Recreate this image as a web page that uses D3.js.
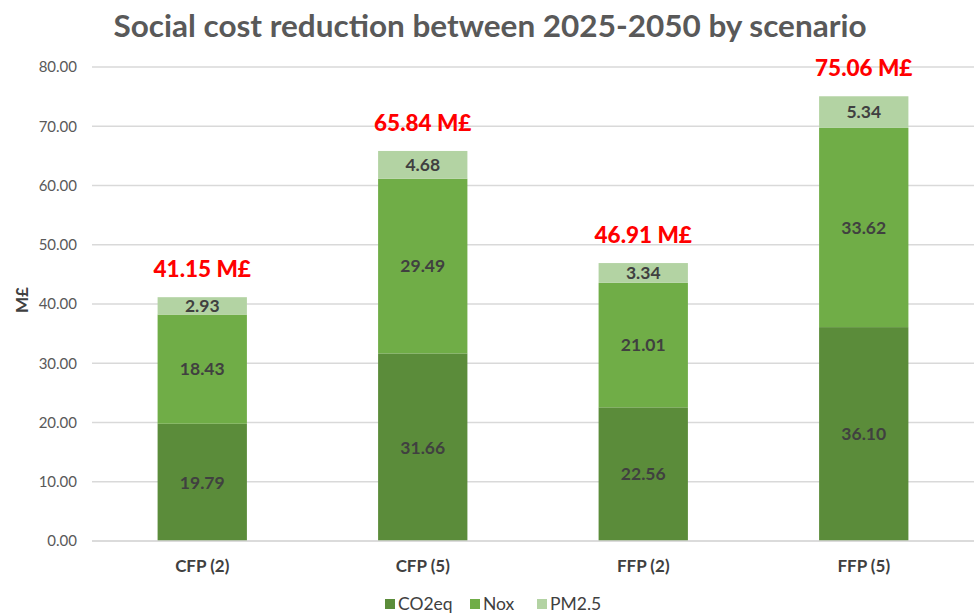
<!DOCTYPE html>
<html><head><meta charset="utf-8">
<script src="https://cdn.jsdelivr.net/npm/d3@7"></script>
<style>body{margin:0;background:#fff}svg{display:block}</style>
</head><body><svg id="c" width="974" height="613"></svg>
<script>
const categories = ["CFP (2)", "CFP (5)", "FFP (2)", "FFP (5)"];
const seriesNames = ["CO2eq", "Nox", "PM2.5"];
const co2eq = [19.79, 31.66, 22.56, 36.10];
const nox = [18.43, 29.49, 21.01, 33.62];
const pm25 = [2.93, 4.68, 3.34, 5.34];
const totals = [41.15, 65.84, 46.91, 75.06];
const yTicks = [0, 10, 20, 30, 40, 50, 60, 70, 80];
const colors = ["#5b8c3a", "#70ad47", "#b3d3a3"];

const svg = d3.select("#c");
const font = "Lato, 'Open Sans', sans-serif";
const x = d3.scaleBand().domain(categories).range([92, 974]).paddingInner(0.595).paddingOuter(0.2975);
const y = d3.scaleLinear().domain([0, 80]).range([541, 67]);

const rows = categories.map((c, i) => ({cat: c, "CO2eq": co2eq[i], "Nox": nox[i], "PM2.5": pm25[i]}));
const stacked = d3.stack().keys(seriesNames)(rows);

// gridlines
svg.append("g").selectAll("line").data(yTicks).join("line")
  .attr("x1", 92).attr("x2", 974)
  .attr("y1", d => y(d)).attr("y2", d => y(d))
  .attr("stroke", "#d9d9d9").attr("stroke-width", 1.3);

// y axis labels
const ya = svg.append("g").attr("transform", "translate(77,0)")
  .call(d3.axisLeft(y).tickValues(yTicks).tickFormat(d3.format(".2f")).tickSize(0).tickPadding(0));
ya.select(".domain").remove();
ya.selectAll("text").attr("font-family", font).attr("font-size", 15).attr("fill", "#595959");

// bars
stacked.forEach((s, si) => {
  svg.append("g").selectAll("rect").data(s).join("rect")
    .attr("x", d => x(d.data.cat)).attr("width", x.bandwidth())
    .attr("y", d => y(d[1])).attr("height", d => y(d[0]) - y(d[1]))
    .attr("fill", colors[si]);
  svg.append("g").selectAll("text").data(s).join("text")
    .attr("x", d => x(d.data.cat) + x.bandwidth() / 2)
    .attr("y", d => (y(d[0]) + y(d[1])) / 2)
    .attr("dy", "0.36em").attr("text-anchor", "middle")
    .attr("font-family", font).attr("font-weight", "bold").attr("font-size", 17.5)
    .attr("fill", "#404040")
    .text(d => d3.format(".2f")(d[1] - d[0]));
});

// baseline
svg.append("line").attr("x1", 92).attr("x2", 974).attr("y1", y(0)).attr("y2", y(0))
  .attr("stroke", "#d9d9d9").attr("stroke-width", 1.3);

// totals
svg.append("g").selectAll("text").data(categories).join("text")
  .attr("x", d => x(d) + x.bandwidth() / 2)
  .attr("y", (d, i) => y(totals[i]) - 20)
  .attr("text-anchor", "middle")
  .attr("font-family", font).attr("font-weight", 900).attr("font-size", 22.5)
  .attr("fill", "#ff0000")
  .text((d, i) => d3.format(".2f")(totals[i]) + " M£");

// x axis labels
const xa = svg.append("g").attr("transform", "translate(0,541)")
  .call(d3.axisBottom(x).tickSize(0).tickPadding(19));
xa.select(".domain").remove();
xa.selectAll("text").attr("font-family", font).attr("font-weight", "bold").attr("font-size", 17).attr("fill", "#404040");

// y title
svg.append("text").attr("transform", "translate(28,300) rotate(-90)")
  .attr("text-anchor", "middle").attr("font-family", font).attr("font-weight", "bold")
  .attr("font-size", 17).attr("fill", "#404040").text("M£");

// title
svg.append("text").attr("x", 490).attr("y", 37).attr("text-anchor", "middle")
  .attr("font-family", font).attr("font-weight", "bold").attr("font-size", 31)
  .attr("fill", "#595959").attr("textLength", 753).attr("lengthAdjust", "spacingAndGlyphs")
  .text("Social cost reduction between 2025-2050 by scenario");

// legend
const legendX = [385, 470, 537];
const lg = svg.append("g").selectAll("g").data(seriesNames).join("g")
  .attr("transform", (d, i) => `translate(${legendX[i]},604)`);
lg.append("rect").attr("x", 0).attr("y", -5).attr("width", 10).attr("height", 10)
  .attr("fill", (d, i) => colors[i]);
lg.append("text").attr("x", 13).attr("y", 0).attr("dy", "0.36em")
  .attr("font-family", font).attr("font-size", 17.5).attr("fill", "#404040").text(d => d);
</script></body></html>
